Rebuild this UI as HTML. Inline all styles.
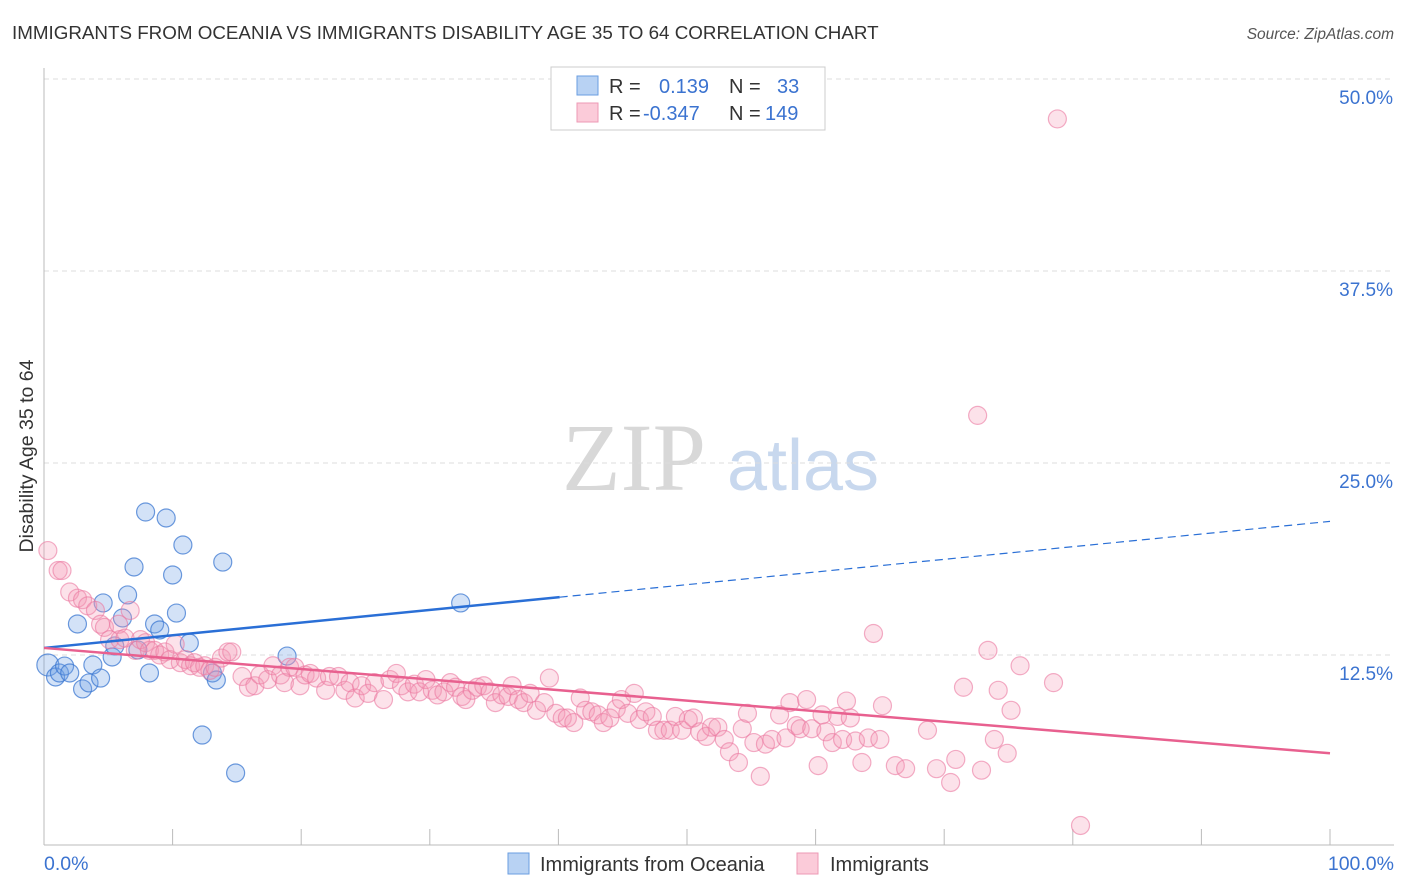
<!DOCTYPE html>
<html><head><meta charset="utf-8"><style>
body{margin:0;background:#fff;width:1406px;height:892px;overflow:hidden;font-family:"Liberation Sans",sans-serif}
svg{display:block}
</style></head><body>
<svg id="chart" width="1406" height="892">
<text x="12" y="39" font-size="18.8" fill="#333">IMMIGRANTS FROM OCEANIA VS IMMIGRANTS DISABILITY AGE 35 TO 64 CORRELATION CHART</text>
<text x="1394" y="39" font-size="15.5" fill="#555" font-style="italic" text-anchor="end">Source: ZipAtlas.com</text>
<text x="634" y="490" font-size="96" fill="#d8d8d8" font-family="Liberation Serif,serif" text-anchor="middle">ZIP</text>
<text x="803" y="490" font-size="72" fill="#c8d8ee" text-anchor="middle">atlas</text>
<g id="grid"></g>
<g id="axes"></g>
<g id="marks"></g>
<text transform="translate(33,456) rotate(-90)" font-size="19.5" fill="#333" text-anchor="middle">Disability Age 35 to 64</text>
<text x="44" y="870" font-size="19.5" fill="#3b73d0">0.0%</text>
<text x="1394" y="870" font-size="19.5" fill="#3b73d0" text-anchor="end">100.0%</text>
<g>
<rect x="551" y="67" width="274" height="63" fill="#fff" stroke="#ccc"/>
<rect x="577" y="76" width="21" height="19" fill="#b8d2f3" stroke="#6a9ee0"/>
<rect x="577" y="103" width="21" height="19" fill="#fbcbd9" stroke="#ee9ab5"/>
<text x="609" y="93" font-size="20" fill="#333">R =</text>
<text x="659" y="93" font-size="20" fill="#3b73d0">0.139</text>
<text x="729" y="93" font-size="20" fill="#333">N =</text>
<text x="777" y="93" font-size="20" fill="#3b73d0">33</text>
<text x="609" y="120" font-size="20" fill="#333">R =</text>
<text x="643" y="120" font-size="20" fill="#3b73d0">-0.347</text>
<text x="729" y="120" font-size="20" fill="#333">N =</text>
<text x="765" y="120" font-size="20" fill="#3b73d0">149</text>
</g>
<g>
<rect x="508" y="853" width="21" height="21" fill="#b8d2f3" stroke="#6a9ee0"/>
<text x="540" y="871" font-size="20" fill="#333">Immigrants from Oceania</text>
<rect x="797" y="853" width="21" height="21" fill="#fbcbd9" stroke="#ee9ab5"/>
<text x="830" y="871" font-size="20" fill="#333">Immigrants</text>
</g>
</svg>
<script>
const yTicks=[12.5,25,37.5,50];
const yTickLabels=["12.5%","25.0%","37.5%","50.0%"];
const xTicks=[0,10,20,30,40,50,60,70,80,90,100];
const blueX=[0.3,0.9,1.2,1.6,2.0,2.6,3.0,3.5,3.8,4.4,4.6,5.3,5.5,6.1,6.5,7.0,7.3,7.9,8.2,8.6,9.0,9.5,10.0,10.3,10.8,11.3,12.3,13.1,13.4,13.9,14.9,18.9,32.4];
const blueY=[11.85,11.07,11.33,11.78,11.33,14.52,10.29,10.68,11.85,11.0,15.89,12.37,13.09,14.91,16.41,18.23,12.83,21.81,11.33,14.52,14.13,21.42,17.71,15.23,19.66,13.28,7.29,11.33,10.87,18.55,4.82,12.43,15.89];
const pinkX=[0.3,1.1,1.4,2.0,2.6,3.0,3.4,4.0,4.4,4.7,5.1,5.8,5.9,6.3,6.7,7.1,7.5,7.9,8.2,8.6,9.0,9.4,9.8,10.2,10.6,11.0,11.4,11.7,12.1,12.5,12.9,13.3,13.8,14.3,14.6,15.4,15.9,16.4,16.8,17.4,17.8,18.4,18.7,19.1,19.5,19.9,20.3,20.7,21.2,21.9,22.2,22.9,23.4,23.8,24.2,24.7,25.2,25.7,26.4,26.9,27.4,27.8,28.3,28.8,29.2,29.7,30.2,30.6,31.1,31.6,32.0,32.5,32.8,33.3,33.7,34.2,34.7,35.1,35.6,36.1,36.4,36.9,37.3,37.8,38.3,38.9,39.3,39.8,40.3,40.7,41.2,41.7,42.1,42.6,43.1,43.5,44.0,44.5,44.9,45.4,45.9,46.3,46.8,47.3,47.7,48.2,48.7,49.1,49.6,50.1,50.5,51.0,51.5,51.9,52.4,52.9,53.3,54.0,54.3,54.7,55.2,55.7,56.1,56.6,57.2,57.7,58.0,58.5,58.8,59.3,59.7,60.2,60.5,60.8,61.3,61.7,62.1,62.4,62.7,63.1,63.6,64.1,64.5,65.0,65.2,66.2,67.0,68.7,69.4,70.5,70.9,71.5,72.6,72.9,73.4,73.9,74.2,74.9,75.2,75.9,78.5,78.8,80.6];
const pinkY=[19.3,18.0,18.0,16.6,16.2,16.1,15.7,15.4,14.5,14.3,13.5,14.5,13.5,13.6,15.4,12.8,13.5,13.3,12.8,12.8,12.5,12.7,12.2,13.2,12.0,12.2,11.8,12.0,11.7,11.8,11.5,11.7,12.3,12.7,12.7,11.1,10.4,10.5,11.2,10.9,11.8,11.2,10.7,11.7,11.7,10.5,11.2,11.3,11.0,10.2,11.1,11.1,10.2,10.7,9.7,10.5,10.0,10.7,9.6,10.9,11.3,10.5,10.1,10.6,10.1,10.9,10.2,9.9,10.1,10.7,10.4,9.8,9.6,10.2,10.4,10.5,10.1,9.4,9.9,9.8,10.5,9.6,9.4,10.0,8.9,9.4,11.0,8.7,8.4,8.4,8.1,9.7,8.9,8.8,8.6,8.1,8.4,9.0,9.6,8.7,10.0,8.3,8.8,8.5,7.6,7.6,7.6,8.5,7.6,8.3,8.4,7.5,7.2,7.8,7.8,7.0,6.2,5.5,7.7,8.7,6.8,4.6,6.7,7.0,8.6,7.1,9.4,7.9,7.7,9.6,7.7,5.3,8.6,7.5,6.8,8.5,7.0,9.5,8.4,6.9,5.5,7.1,13.9,7.0,9.2,5.3,5.1,7.6,5.1,4.2,5.7,10.4,28.1,5.0,12.8,7.0,10.2,6.1,8.9,11.8,10.7,47.4,1.4];
const blueTrend=[12.96,21.2];
const blueSolidEnd=40.1;
const pinkTrend=[12.96,6.1];

const NS="http://www.w3.org/2000/svg";
const X0=44,X1=1330,Y0=847,PXPER=15.36;
function sx(v){return X0+(X1-X0)*v/100;}
function sy(v){return Y0-v*PXPER;}
function mk(tag,attrs,parent){const e=document.createElementNS(NS,tag);for(const k in attrs)e.setAttribute(k,attrs[k]);parent.appendChild(e);return e;}
const grid=document.getElementById('grid'),axes=document.getElementById('axes'),marks=document.getElementById('marks');
yTicks.forEach((t,i)=>{
  const l=mk('line',{x1:44,x2:1394,y1:sy(t),y2:sy(t),stroke:'#ddd','stroke-dasharray':'5,4'},grid);
  
  
  const tx=mk('text',{x:1393,y:sy(t)+25,'font-size':19,fill:'#3b73d0','text-anchor':'end'},grid);
  tx.textContent=yTickLabels[i];
  
  
});
const xa=mk('line',{x1:44,x2:1394,y1:845,y2:845,stroke:'#bbb'},axes);


const ya=mk('line',{x1:44,x2:44,y1:68,y2:845,stroke:'#bbb'},axes);


xTicks.forEach(t=>{
  const l=mk('line',{x1:sx(t),x2:sx(t),y1:829,y2:845,stroke:'#bbb'},axes);
  
  
});
blueX.forEach((x,i)=>{
  const c=mk('circle',{cx:sx(x),cy:sy(blueY[i]),r:i===0?11:9,fill:'rgba(110,160,230,0.3)',stroke:'rgba(60,120,210,0.75)','stroke-width':1.2},marks);
  
  
});
pinkX.forEach((x,i)=>{
  const c=mk('circle',{cx:sx(x),cy:sy(pinkY[i]),r:9,fill:'rgba(245,150,180,0.28)',stroke:'rgba(235,120,160,0.6)','stroke-width':1.2},marks);
  
  
});
function by(x){return blueTrend[0]+(blueTrend[1]-blueTrend[0])*x/100;}
const bs=mk('line',{x1:sx(0),y1:sy(by(0)),x2:sx(blueSolidEnd),y2:sy(by(blueSolidEnd)),stroke:'#2a6fd6','stroke-width':2.5},marks);


const bd=mk('line',{x1:sx(blueSolidEnd),y1:sy(by(blueSolidEnd)),x2:sx(100),y2:sy(by(100)),stroke:'#2a6fd6','stroke-width':1.2,'stroke-dasharray':'8,5'},marks);


const pt=mk('line',{x1:sx(0),y1:sy(pinkTrend[0]),x2:sx(100),y2:sy(pinkTrend[1]),stroke:'#e8608f','stroke-width':2.5},marks);


</script>
</body></html>
